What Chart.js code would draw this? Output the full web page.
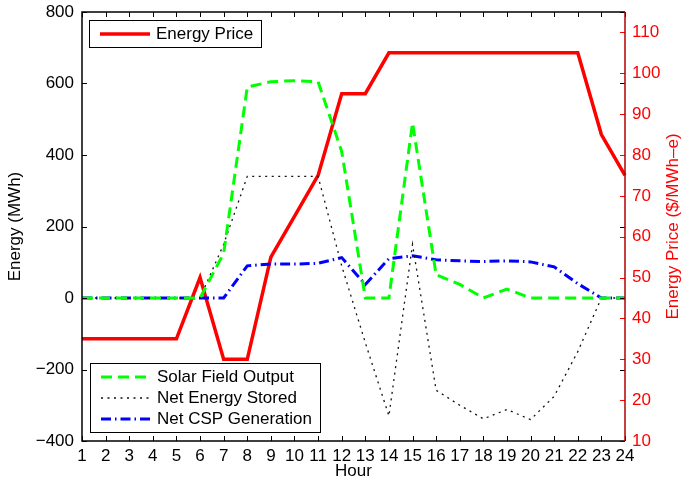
<!DOCTYPE html>
<html>
<head>
<meta charset="utf-8">
<script src="https://cdn.jsdelivr.net/npm/chart.js@4"></script>
<style>
  html, body { margin: 0; padding: 0; background: #fff; }
  #wrap { width: 692px; height: 482px; }
</style>
</head>
<body>
<div id="wrap"><canvas id="chart1"></canvas></div>
<script>
'use strict';

// data
const hours = ["1", "2", "3", "4", "5", "6", "7", "8", "9", "10", "11", "12",
  "13", "14", "15", "16", "17", "18", "19", "20", "21", "22", "23", "24"];
const solarField = [0, 0, 0, 0, 0, 0, 125, 590, 605, 608, 605, 410,
  0, 0, 490, 65, 38, 0, 25, 0, 0, 0, 0, 0];
const energyStored = [0, 0, 0, 0, 0, 0, 150, 340, 340, 340, 340, 90,
  -125, -330, 150, -258, -300, -338, -312, -340, -275, -150, 0, 0];
const cspGeneration = [0, 0, 0, 0, 0, 0, 0, 90, 95, 95, 97, 113,
  38, 110, 118, 107, 104, 102, 104, 101, 87, 40, 0, 0];
const energyPrice = [35, 35, 35, 35, 35, 50, 30, 30, 55, 65, 75, 95,
  95, 105, 105, 105, 105, 105, 105, 105, 105, 105, 85, 75];

const leftTicks = [-400, -200, 0, 200, 400, 600, 800];
const rightTicks = [10, 20, 30, 40, 50, 60, 70, 80, 90, 100, 110];

const FONT = "'Liberation Sans', Arial, Helvetica, sans-serif";
const FSIZE = 17;
const RED = "#ff0000";
const GREEN = "#00ff00";
const BLUE = "#0000ff";

const fmt = (v) => (v < 0 ? "\u2212" + Math.abs(v) : String(v));

// fixed axis boxes so the plot area lands where the matlab one is
const fixWidth = (w) => (s) => {
  s.width = w;
  s.paddingTop = 0;
  s.paddingBottom = 0;
};

// frame, inward ticks, axis titles and the two matlab style legends
const framePlugin = {
  id: "frame",
  afterDatasetsDraw(chart) {
    const { ctx, chartArea: a, scales } = chart;
    const tl = 5;
    ctx.save();
    ctx.lineWidth = 1;

    // x ticks bottom + top
    ctx.strokeStyle = "#000";
    ctx.beginPath();
    scales.x.ticks.forEach((t, i) => {
      const px = Math.round(scales.x.getPixelForTick(i)) + 0.5;
      ctx.moveTo(px, a.bottom); ctx.lineTo(px, a.bottom - tl);
      ctx.moveTo(px, a.top); ctx.lineTo(px, a.top + tl);
    });
    // left ticks on both sides
    leftTicks.forEach((v) => {
      const py = Math.round(scales.y.getPixelForValue(v)) + 0.5;
      ctx.moveTo(a.left, py); ctx.lineTo(a.left + tl, py);
      ctx.moveTo(a.right, py); ctx.lineTo(a.right - tl, py);
    });
    ctx.stroke();

    // right axis ticks in red
    ctx.strokeStyle = RED;
    ctx.beginPath();
    rightTicks.forEach((v) => {
      const py = Math.round(scales.y1.getPixelForValue(v)) + 0.5;
      ctx.moveTo(a.right, py); ctx.lineTo(a.right - tl, py);
    });
    ctx.stroke();

    // box
    ctx.strokeStyle = "#000";
    ctx.lineWidth = 1.5;
    ctx.beginPath();
    ctx.moveTo(a.right, a.top); ctx.lineTo(a.left, a.top);
    ctx.lineTo(a.left, a.bottom); ctx.lineTo(a.right, a.bottom);
    ctx.stroke();
    ctx.strokeStyle = "#b00000";
    ctx.beginPath();
    ctx.moveTo(a.right, a.top); ctx.lineTo(a.right, a.bottom);
    ctx.stroke();

    // axis titles
    const midY = (a.top + a.bottom) / 2;
    ctx.font = FSIZE + "px " + FONT;
    ctx.textAlign = "center";
    ctx.textBaseline = "middle";
    ctx.fillStyle = "#000";
    ctx.fillText("Hour", (a.left + a.right) / 2, 471);
    ctx.save();
    ctx.translate(15, midY);
    ctx.rotate(-Math.PI / 2);
    ctx.fillText("Energy (MWh)", 0, 0);
    ctx.restore();
    ctx.save();
    ctx.translate(673, midY);
    ctx.rotate(-Math.PI / 2);
    ctx.fillStyle = RED;
    ctx.fillText("Energy Price ($/MWh\u2013e)", 0, 0);
    ctx.restore();
    ctx.textAlign = "left";

    const drawLegend = (x, y, w, rows) => {
      const rowH = 21;
      const h = rows.length * rowH + 6;
      ctx.fillStyle = "#fff";
      ctx.fillRect(x, y, w, h);
      ctx.strokeStyle = "#000";
      ctx.lineWidth = 1;
      ctx.strokeRect(x + 0.5, y + 0.5, w, h);
      ctx.font = FSIZE + "px " + FONT;
      ctx.textBaseline = "middle";
      rows.forEach((ds, i) => {
        const cy = y + 3 + rowH * i + rowH / 2 + 0.5;
        ctx.strokeStyle = ds.borderColor;
        ctx.lineWidth = ds.borderWidth;
        ctx.setLineDash(ds.borderDash || []);
        ctx.beginPath();
        ctx.moveTo(x + 11, cy); ctx.lineTo(x + 61, cy);
        ctx.stroke();
        ctx.setLineDash([]);
        ctx.fillStyle = "#000";
        ctx.fillText(ds.label, x + 67, cy);
      });
    };
    const ds = chart.data.datasets;
    drawLegend(a.left + 7, a.top + 8, 172, [ds[3]]);
    drawLegend(a.left + 8, a.bottom - 78, 230, [ds[0], ds[1], ds[2]]);
    ctx.restore();
  },
};

const ctx = document.getElementById("chart1");
new Chart(ctx, {
  type: "line",
  data: {
    labels: hours,
    datasets: [
      {
        label: "Solar Field Output",
        data: solarField,
        yAxisID: "y",
        borderColor: GREEN,
        borderWidth: 3,
        borderDash: [11, 6],
      },
      {
        label: "Net Energy Stored",
        data: energyStored,
        yAxisID: "y",
        borderColor: "#111",
        borderWidth: 1.3,
        borderDash: [2, 4.5],
      },
      {
        label: "Net CSP Generation",
        data: cspGeneration,
        yAxisID: "y",
        borderColor: BLUE,
        borderWidth: 3,
        borderDash: [10, 4, 1.5, 4],
      },
      {
        label: "Energy Price",
        data: energyPrice,
        yAxisID: "y1",
        borderColor: RED,
        borderWidth: 3.5,
      },
    ],
  },
  options: {
    responsive: true,
    maintainAspectRatio: false,
    animation: false,
    layout: { padding: { top: 12, left: 0, right: 0, bottom: 0 } },
    elements: { point: { radius: 0 }, line: { tension: 0, fill: false } },
    plugins: { legend: { display: false }, tooltip: { enabled: false } },
    scales: {
      x: {
        type: "category",
        offset: false,
        grid: { display: false, drawTicks: false },
        border: { display: false },
        ticks: { color: "#000", font: { family: FONT, size: FSIZE }, padding: 5, maxRotation: 0, autoSkip: false },
        afterFit: (s) => { s.height = 41; },
      },
      y: {
        position: "left",
        min: -400,
        max: 800,
        afterBuildTicks: (s) => { s.ticks = leftTicks.map((v) => ({ value: v })); },
        grid: { display: false, drawTicks: false },
        border: { display: false },
        ticks: { color: "#000", font: { family: FONT, size: FSIZE }, padding: 8, callback: (v) => fmt(v) },
        afterFit: fixWidth(82),
      },
      y1: {
        position: "right",
        min: 10,
        max: 115,
        afterBuildTicks: (s) => { s.ticks = rightTicks.map((v) => ({ value: v })); },
        grid: { display: false, drawTicks: false },
        border: { display: false },
        ticks: { color: RED, font: { family: FONT, size: FSIZE }, padding: 7 },
        afterFit: fixWidth(67),
      },
    },
  },
  plugins: [framePlugin],
});
</script>
</body>
</html>
